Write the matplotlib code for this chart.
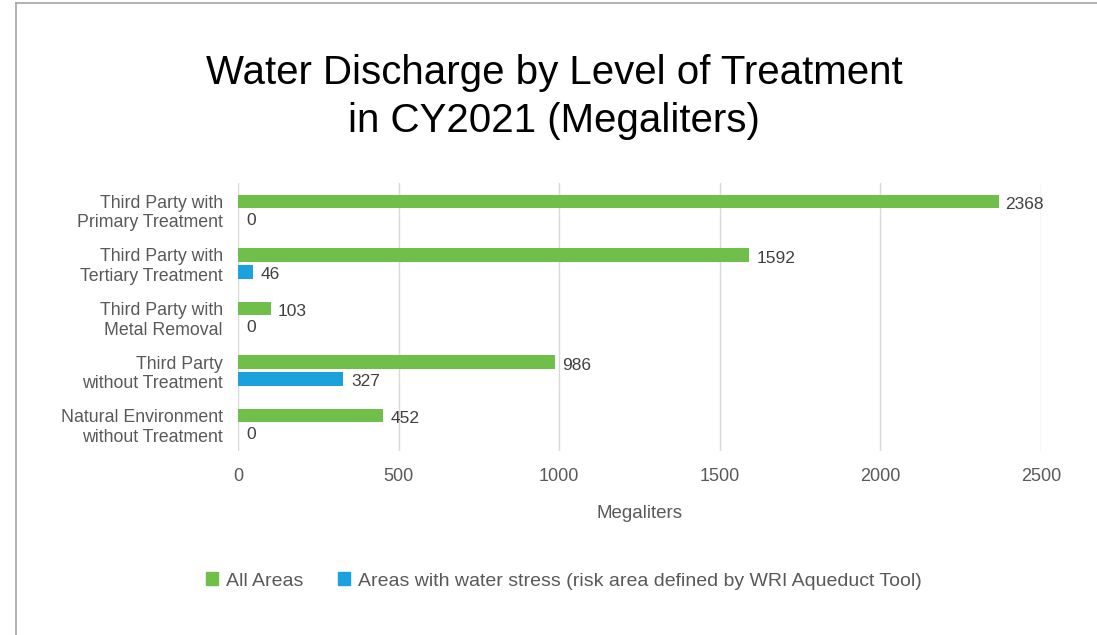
import matplotlib
matplotlib.use('Agg')
import matplotlib.pyplot as plt
from matplotlib.patches import Patch
from matplotlib.lines import Line2D
import numpy as np

plt.rcParams['font.family'] = ['Liberation Sans', 'DejaVu Sans']

categories = ['Third Party with\nPrimary Treatment',
              'Third Party with\nTertiary Treatment',
              'Third Party with\nMetal Removal',
              'Third Party\nwithout Treatment',
              'Natural Environment\nwithout Treatment']
all_areas = [2368, 1592, 103, 986, 452]
water_stress = [0, 46, 0, 327, 0]
series_names = ['All Areas',
                'Areas with water stress (risk area defined by WRI Aqueduct Tool)']
xticks = [0, 500, 1000, 1500, 2000, 2500]

green = '#70BF4B'
blue = '#1BA1DC'
grey_txt = '#595959'

W, H = 1097, 635
fig = plt.figure(figsize=(W / 100, H / 100), dpi=100)
ax = fig.add_axes([238 / W, 1 - 451 / H, (1041 - 238) / W, (451 - 183) / H])

y = np.arange(len(categories))
bh = 0.25
gap = 0.035
ax.barh(y - bh / 2 - gap, all_areas, height=bh, color=green)
ax.barh(y + bh / 2 + gap, water_stress, height=bh, color=blue)

for i in range(len(categories)):
    ax.annotate(str(all_areas[i]), (all_areas[i], y[i] - bh / 2 - gap + 0.06),
                xytext=(5, 0), textcoords='offset points', va='center',
                ha='left', fontsize=12.5, color='#404040')
    ax.annotate(str(water_stress[i]), (water_stress[i], y[i] + bh / 2 + gap + 0.04),
                xytext=(6, 0), textcoords='offset points', va='center',
                ha='left', fontsize=12.5, color='#404040')

ax.set_ylim(len(categories) - 0.5, -0.5)
ax.set_xlim(0, 2500)
ax.set_yticks(y)
ax.set_yticklabels(categories, fontsize=12.8, color=grey_txt, linespacing=1.2)
ax.set_xticks(xticks)
ax.set_xticklabels([str(t) for t in xticks], fontsize=13, color=grey_txt)
ax.tick_params(length=0)
ax.tick_params(axis='y', pad=11)
ax.tick_params(axis='x', pad=12)
ax.grid(axis='x', color='#D9D9D9', linewidth=1)
ax.set_axisbelow(True)
for s in ax.spines.values():
    s.set_visible(False)
ax.set_xlabel('Megaliters', fontsize=13.5, color=grey_txt, labelpad=15)

fig.text(554 / W, 1 - 97 / H, 'Water Discharge by Level of Treatment\nin CY2021 (Megaliters)',
         ha='center', va='center', fontsize=29, color='black', linespacing=1.3)

handles = [Patch(color=green), Patch(color=blue)]
fig.legend(handles, series_names, loc='center', bbox_to_anchor=(564 / W, 1 - 581 / H),
           ncol=2, frameon=False, fontsize=14, handlelength=0.6, handleheight=0.6,
           handletextpad=0.4, columnspacing=1.8, labelcolor=grey_txt)

# outer chart frame (partly cropped)
fig.add_artist(Line2D([15.5 / W, 15.5 / W], [0, 1 - 2.5 / H], color='#A6A6A6', lw=1.2))
fig.add_artist(Line2D([15.5 / W, 1], [1 - 2.5 / H, 1 - 2.5 / H], color='#A6A6A6', lw=1.2))

fig.savefig('out.png', dpi=100)
